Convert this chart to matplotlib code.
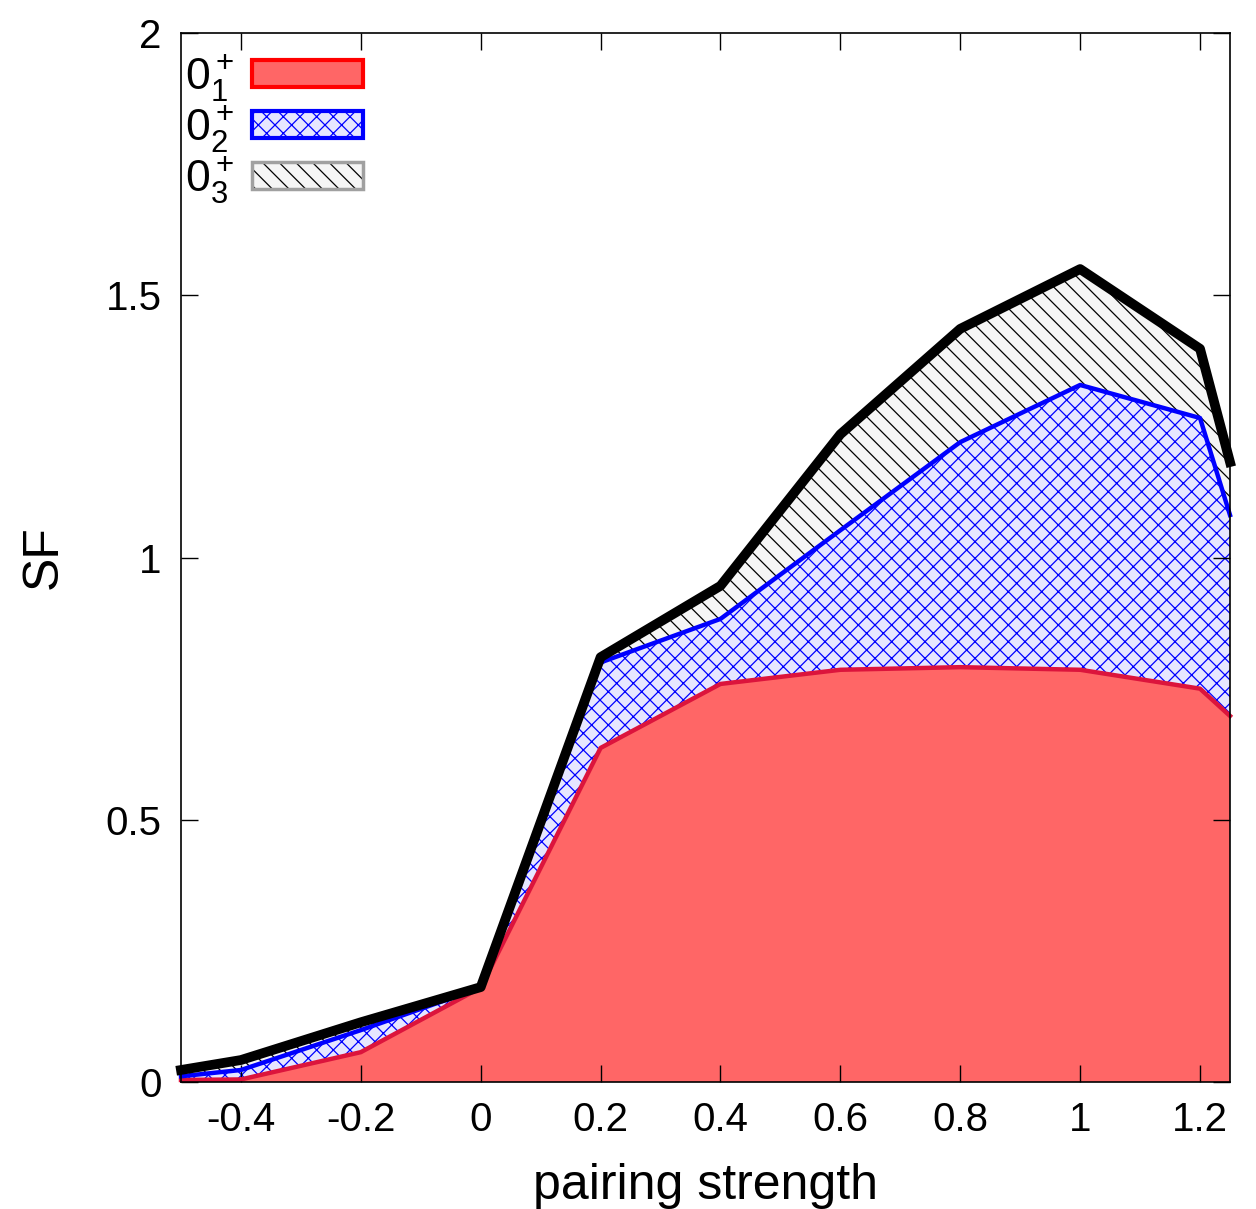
import matplotlib
matplotlib.use("Agg")
import matplotlib.pyplot as plt
from matplotlib.patches import Patch

plt.rcParams["font.family"] = ["Liberation Sans", "DejaVu Sans"]
plt.rcParams["mathtext.fontset"] = "custom"
plt.rcParams["mathtext.rm"] = "Liberation Sans"
plt.rcParams["mathtext.it"] = "Liberation Sans"
plt.rcParams["axes.unicode_minus"] = False
plt.rcParams["hatch.linewidth"] = 0.9

# pairing strength values
strength = [-0.5, -0.4, -0.2, 0.0, 0.2, 0.4, 0.6, 0.8, 1.0, 1.2, 1.25]
# cumulative spectroscopic factors
sf_01 = [0.004, 0.005, 0.057, 0.18, 0.637, 0.759, 0.786, 0.791, 0.786, 0.75, 0.698]
sf_012 = [0.011, 0.023, 0.099, 0.18, 0.80, 0.883, 1.052, 1.22, 1.329, 1.266, 1.081]
sf_total = [0.023, 0.042, 0.114, 0.181, 0.81, 0.946, 1.235, 1.436, 1.55, 1.398, 1.182]

xticks = [-0.4, -0.2, 0, 0.2, 0.4, 0.6, 0.8, 1, 1.2]
xtick_labels = ["-0.4", "-0.2", "0", "0.2", "0.4", "0.6", "0.8", "1", "1.2"]
yticks = [0, 0.5, 1, 1.5, 2]
ytick_labels = ["0", "0.5", "1", "1.5", "2"]
labels = [r"$0^+_1$", r"$0^+_2$", r"$0^+_3$"]

fig = plt.figure(figsize=(12.56, 12.09), dpi=100)
ax = fig.add_axes([0.1441, 0.105, 0.8352, 0.8677])

# filled bands
ax.fill_between(strength, 0, sf_01, facecolor="#ff6666", edgecolor="none", linewidth=0)
ax.fill_between(strength, sf_01, sf_012, facecolor="#e6e6ff", edgecolor="blue",
                hatch="xx", linewidth=0)
ax.fill_between(strength, sf_012, sf_total, facecolor="#f5f5f5", edgecolor="black",
                hatch="\\\\", linewidth=0)

# boundary lines
ax.plot(strength, sf_01, color="#dc143c", linewidth=3.2, clip_on=False, zorder=3)
ax.plot(strength, sf_012, color="blue", linewidth=3.2, clip_on=False, zorder=4)
ax.plot(strength, sf_total, color="black", linewidth=7, clip_on=False, zorder=5)

ax.set_xlim(-0.5, 1.25)
ax.set_ylim(0, 2)
ax.set_xticks(xticks)
ax.set_xticklabels(xtick_labels)
ax.set_yticks(yticks)
ax.set_yticklabels(ytick_labels)
ax.tick_params(direction="in", length=12, width=1, top=True, right=True,
               labelsize=29, pad=14)
for spine in ax.spines.values():
    spine.set_linewidth(1.2)
    spine.set_zorder(6)

ax.set_xlabel("pairing strength", fontsize=36, labelpad=17)
ax.set_ylabel("SF", fontsize=36, labelpad=28)

handles = [
    Patch(facecolor="#ff6666", edgecolor="red", linewidth=3),
    Patch(facecolor="#e6e6ff", edgecolor="blue", hatch="xx", linewidth=3),
    (Patch(facecolor="#f5f5f5", edgecolor="black", hatch="\\\\", linewidth=0),
     Patch(fill=False, edgecolor="#a0a0a0", linewidth=2.5)),
]
leg = ax.legend(handles, labels, loc="upper left", markerfirst=False, frameon=False,
                fontsize=32, handlelength=2.5, handleheight=0.55, labelspacing=0.0,
                handletextpad=0.4, borderaxespad=0.1, bbox_to_anchor=(-0.017, 1.003))

fig.savefig("out.png", dpi=100)
